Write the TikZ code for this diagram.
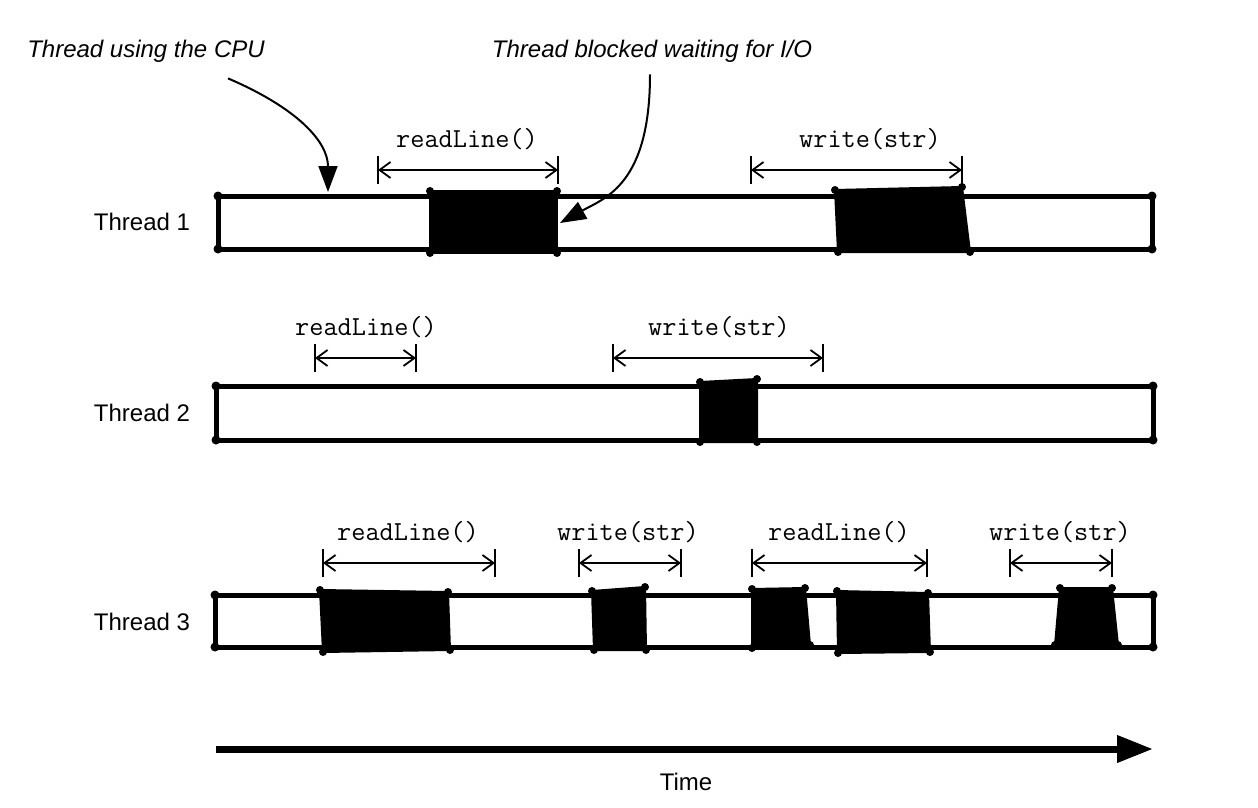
\documentclass[tikz,border=0pt]{standalone}
\usepackage{fontspec}
\setmainfont{Liberation Sans}
\usetikzlibrary{arrows.meta}

\tikzset{
  thread/.style={line width=5pt, line join=round},
  busy/.style={fill=black, draw=black, line width=2pt, line join=round},
  span/.style={line width=1.8pt, {Straight Barb[length=11pt,width=16pt]}-{Straight Barb[length=11pt,width=16pt]}},
  tick/.style={line width=2pt},
  call/.style={font=\ttfamily\fontsize{27.5}{30}\selectfont, anchor=base, inner sep=0pt},
  note/.style={font=\itshape\fontsize{24}{28}\selectfont, inner sep=2pt},
  threadname/.style={font=\fontsize{24}{28}\selectfont, inner sep=0pt},
  pointer/.style={line width=2pt, -{Triangle[length=26pt,width=19pt]}},
  timeline/.style={line width=7pt, -{Triangle[length=36pt,width=26pt]}}
}

\begin{document}
\begin{tikzpicture}[x=1pt,y=-1pt]
    \useasboundingbox (0,0) rectangle (1258,808);
    %% Draw the thread names
    \node[threadname] (T1) at (142,222) {Thread 1};
    \node[threadname] (T2) at (142,413) {Thread 2};
    \node[threadname] (T3) at (142,622) {Thread 3};
    %% Draw the threads
    \draw[thread] (218,196) rectangle (1152,249);
    \draw[thread] (216,386) rectangle (1153,440);
    \draw[thread] (215,595) rectangle (1153,647);
    \foreach \x/\y in {218/196,218/249,1152/196,1152/249,216/386,216/440,
                       1153/386,1153/440,215/595,215/647,1153/595,1153/647}
      \fill (\x,\y) circle (4.5pt);
    %% Draw the blocked parts
    \foreach \xa/\ya/\xb/\yb/\xc/\yc/\xd/\yd in {
        430/191/430/253/557/253/557/191,
        835/190/838/252/970/252/962/187,
        700/382/700/442/757/442/757/379,
        320/590/323/652/450/650/448/592,
        592/591/594/650/646/650/645/587,
        752/589/752/648/810/645/805/588,
        837/591/838/653/930/652/928/593,
        1060/588/1055/645/1118/645/1112/588} {
      \draw[busy] (\xa,\ya) -- (\xb,\yb) -- (\xc,\yc) -- (\xd,\yd) -- cycle;
      \foreach \x/\y in {\xa/\ya,\xb/\yb,\xc/\yc,\xd/\yd}
        \fill (\x,\y) circle (4pt);
    }
    %% Draw the calls
    \foreach \name/\xa/\xb/\y/\xt/\txt in {
        ra/378/558/170/467/readLine(),
        wa/751/962/170/870/write(str),
        rb/315/416/358/366/readLine(),
        wb/613/823/358/719/write(str),
        rc/323/495/563/408/readLine(),
        wc/579/681/563/628/write(str),
        rd/752/927/563/839/readLine(),
        wd/1010/1112/563/1060/write(str)} {
      \coordinate (\name0) at (\xa,\y);
      \coordinate (\name1) at (\xb,\y);
      \node[call] (\name) at (\xt,\y-23) {\txt};
      \draw[span] (\name0) -- (\name1);
      \draw[tick] ([yshift=14pt]\name0) -- ([yshift=-14pt]\name0);
      \draw[tick] ([yshift=14pt]\name1) -- ([yshift=-14pt]\name1);
    }
    %% Draw the notes
    \node[note] (cpu) at (146,51) {Thread using the CPU};
    \node[note] (io) at (652,51) {Thread blocked waiting for I/O};
    \coordinate (cpuhit) at (328,192);
    \coordinate (iohit) at (560,223);
    \draw[pointer] ([xshift=82pt,yshift=-14pt]cpu.south)
      .. controls +(70,30) and +(0,-50) .. (cpuhit);
    \draw[pointer] ([xshift=-2pt,yshift=-10pt]io.south)
      .. controls +(0,110) and +(45,-25) .. (iohit);
    %% Draw the time axis
    \coordinate (t0) at (216,749);
    \coordinate (t1) at (1153,749);
    \draw[timeline] (t0) -- (t1);
    \node[threadname] (time) at (686,782) {Time};
\end{tikzpicture}
\end{document}
